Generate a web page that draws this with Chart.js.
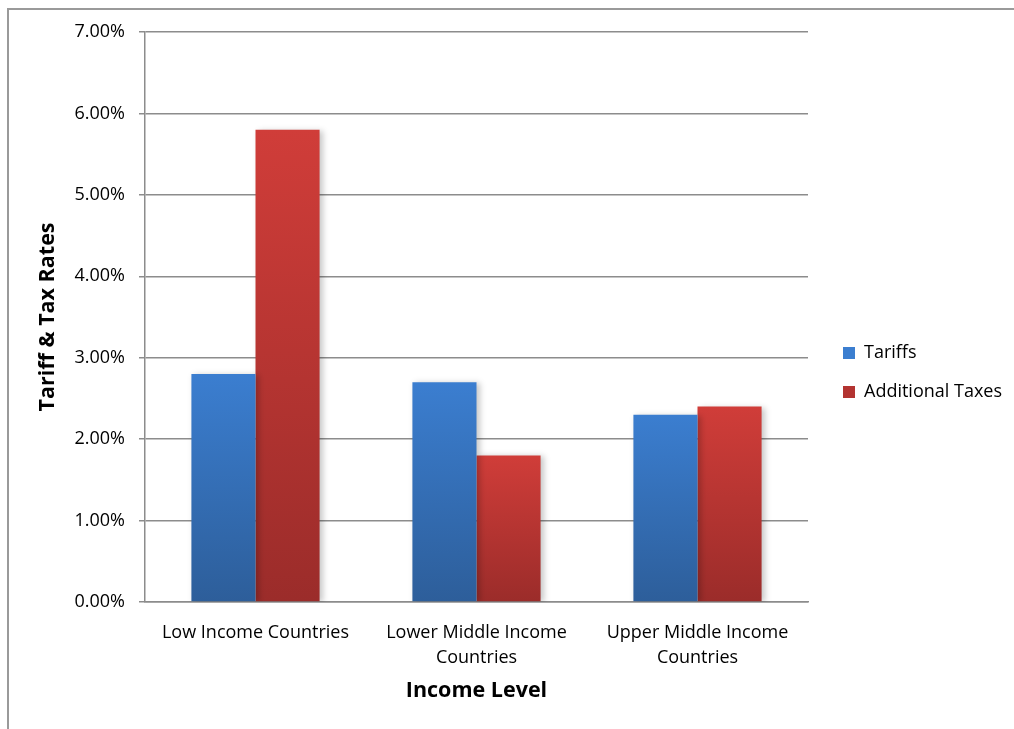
<!DOCTYPE html>
<html>
<head>
<meta charset="utf-8">
<script src="https://cdn.jsdelivr.net/npm/chart.js@4.4.1/dist/chart.umd.min.js"></script>
<style>
  html, body { margin: 0; padding: 0; background: #ffffff; }
  #wrap { position: relative; width: 1014px; height: 729px; }
</style>
</head>
<body>
<div id="wrap"><canvas id="c" width="1014" height="729"></canvas></div>
<script>
const categories = [
  'Low Income Countries',
  ['Lower Middle Income', 'Countries'],
  ['Upper Middle Income', 'Countries']
];
const seriesNames = ['Tariffs', 'Additional Taxes'];
const tariffs = [0.028, 0.027, 0.023];
const additionalTaxes = [0.058, 0.018, 0.024];
const yTicksMin = 0;
const yTicksMax = 0.07;
const yTickStep = 0.01;
const xTitle = 'Income Level';
const yTitle = 'Tariff & Tax Rates';

const FONT = '"Open Sans", Lato, sans-serif';
const CHART_RIGHT = 808;
const LEGEND_BOX_X = 843;
const LEGEND_DY = 2;

function gradientFill(topColor, bottomColor, legendColor) {
  return (ctx) => {
    const chart = ctx.chart;
    if (ctx.type !== 'data' || !chart.chartArea || !chart.scales.y) return legendColor;
    const y = chart.scales.y;
    const yTop = y.getPixelForValue(ctx.raw);
    const yBot = y.getPixelForValue(0);
    if (!isFinite(yTop) || !isFinite(yBot) || yTop === yBot) return legendColor;
    const g = chart.ctx.createLinearGradient(0, yTop, 0, yBot);
    g.addColorStop(0, topColor);
    g.addColorStop(1, bottomColor);
    return g;
  };
}

const shadowPlugin = {
  id: 'barShadow',
  beforeDatasetsDraw(chart) {
    const c = chart.ctx;
    c.save();
    c.shadowColor = 'rgba(0,0,0,0.22)';
    c.shadowBlur = 6;
    c.shadowOffsetX = 3;
    c.shadowOffsetY = 1;
  },
  afterDatasetsDraw(chart) {
    chart.ctx.restore();
  }
};

const framePlugin = {
  id: 'frame',
  afterDraw(chart) {
    const c = chart.ctx;
    c.save();
    c.strokeStyle = '#9a9a9a';
    c.lineWidth = 2;
    c.strokeRect(8, 9, 1100, 800);
    c.restore();
  }
};

// shift the legend so its boxes start where the reference has them
const legendShiftPlugin = {
  id: 'legendShift',
  afterLayout(chart) {
    const lg = chart.legend;
    if (!lg) return;
    const pad = lg.options.labels.padding;
    const dx = LEGEND_BOX_X - (lg.left + pad);
    lg.left += dx;
    lg.right += dx;
    lg.top += LEGEND_DY;
    lg.bottom += LEGEND_DY;
  }
};

const chart = new Chart(document.getElementById('c'), {
  type: 'bar',
  data: {
    labels: categories,
    datasets: [
      {
        label: seriesNames[0],
        data: tariffs,
        backgroundColor: gradientFill('#3b7ed0', '#2d5e9a', '#3469b2'),
        borderWidth: 0
      },
      {
        label: seriesNames[1],
        data: additionalTaxes,
        backgroundColor: gradientFill('#d03d39', '#9b2c2a', '#bf3835'),
        borderWidth: 0
      }
    ]
  },
  options: {
    responsive: false,
    animation: false,
    devicePixelRatio: 1,
    layout: { padding: { left: 30, top: 32, right: 0, bottom: 20 } },
    datasets: { bar: { categoryPercentage: 0.58, barPercentage: 1.0 } },
    plugins: {
      legend: {
        position: 'right',
        align: 'center',
        labels: {
          font: { family: FONT, size: 18 },
          color: '#000',
          boxWidth: 12,
          boxHeight: 12,
          padding: 21
        }
      },
      tooltip: { enabled: false }
    },
    scales: {
      x: {
        grid: { display: false },
        border: { display: true, color: '#8c8c8c', width: 1.5 },
        ticks: {
          font: { family: FONT, size: 18, lineHeight: 1.4 },
          color: '#000',
          padding: 10,
          maxRotation: 0,
          autoSkip: false
        },
        title: {
          display: true,
          text: xTitle,
          font: { family: FONT, size: 21.5, weight: 'bold' },
          color: '#000',
          padding: { top: 0, bottom: 5 }
        },
        afterFit(scale) { scale.height = 107; }
      },
      y: {
        min: yTicksMin,
        max: yTicksMax,
        grid: {
          color: '#8c8c8c',
          lineWidth: 1.5,
          drawTicks: true,
          tickLength: 6
        },
        border: { display: true, color: '#8c8c8c', width: 1.5 },
        ticks: {
          stepSize: yTickStep,
          font: { family: FONT, size: 18 },
          color: '#000',
          padding: 14,
          callback: (v) => (v * 100).toFixed(2) + '%'
        },
        title: {
          display: true,
          text: yTitle,
          font: { family: FONT, size: 21.5, weight: 'bold' },
          color: '#000',
          padding: { top: 5, bottom: 0 }
        },
        afterFit(scale) { scale.width = 115; }
      }
    }
  },
  plugins: [shadowPlugin, framePlugin, legendShiftPlugin]
});

// set right padding so the plot area ends where the reference's does
const extra = chart.chartArea.right - CHART_RIGHT;
if (Math.abs(extra) > 0.5) {
  chart.options.layout.padding.right = Math.max(0, extra);
  chart.update();
}
</script>
</body>
</html>
